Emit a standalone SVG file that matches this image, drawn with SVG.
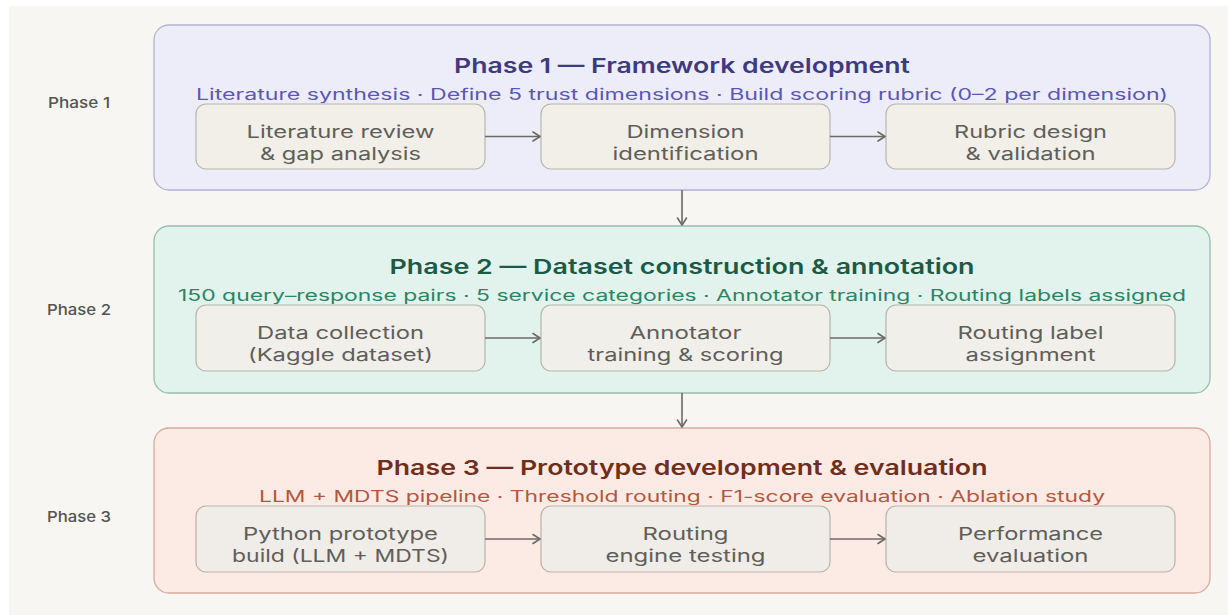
<svg xmlns="http://www.w3.org/2000/svg" width="1228" height="615" viewBox="0 0 1228 615">
  <defs>
    <marker id="chev" markerWidth="12" markerHeight="12" refX="10" refY="6" orient="auto" markerUnits="userSpaceOnUse">
      <path d="M3,1.5 L10,6 L3,10.5" fill="none" stroke="#6b6a66" stroke-width="1.6" stroke-linecap="round" stroke-linejoin="round"/>
    </marker>
  </defs>
  <style>
    text { font-family: Inter, "Noto Sans", "Liberation Sans", sans-serif; }
    .side { font-size: 15px; font-weight: 500; fill: #545450; text-anchor: middle; }
    .title { font-size: 20.5px; font-weight: 600; text-anchor: middle; }
    .sub { font-size: 15.5px; font-weight: 400; text-anchor: middle; }
    .step { font-size: 17.5px; font-weight: 400; fill: #5f5e5a; text-anchor: middle; }
    .p1 { fill: #ededfa; stroke: #b3b1d6; stroke-width: 1.3; }
    .p2 { fill: #e2f3ee; stroke: #94bfae; stroke-width: 1.3; }
    .p3 { fill: #fcebe4; stroke: #d8aa9b; stroke-width: 1.3; }
    .b1 { fill: #f1efe7; stroke: #b9b6ad; stroke-width: 1.2; }
    .b2 { fill: #f0efea; stroke: #b5b5ad; stroke-width: 1.2; }
    .b3 { fill: #f0ece7; stroke: #b9b3ac; stroke-width: 1.2; }
    .t1 { fill: #3d3a80; } .s1 { fill: #5b57b8; }
    .t2 { fill: #1d5a45; } .s2 { fill: #2b8565; }
    .t3 { fill: #6f2f1e; } .s3 { fill: #b55842; }
    .edge { fill: none; stroke: #6b6a66; stroke-width: 1.6; marker-end: url(#chev); }
  </style>

  <!-- page background -->
  <rect x="0" y="0" width="1228" height="615" fill="#ffffff"/>
  <rect x="9" y="6" width="1219" height="609" fill="#f7f6f3"/>

  <!-- row labels -->
  <g id="labels">
    <text class="side" x="79" y="108" textLength="62" lengthAdjust="spacingAndGlyphs">Phase 1</text>
    <text class="side" x="79" y="315" textLength="64" lengthAdjust="spacingAndGlyphs">Phase 2</text>
    <text class="side" x="79" y="522" textLength="64" lengthAdjust="spacingAndGlyphs">Phase 3</text>
  </g>

  <!-- Phase 1 -->
  <g id="phase1">
    <rect class="p1" x="154" y="25" width="1056" height="165" rx="15"/>
    <text class="title t1" x="682" y="73" textLength="456" lengthAdjust="spacingAndGlyphs">Phase 1 — Framework development</text>
    <text class="sub s1" x="682" y="100" textLength="972" lengthAdjust="spacingAndGlyphs">Literature synthesis · Define 5 trust dimensions · Build scoring rubric (0–2 per dimension)</text>
  </g>
  <g id="p1-review">
    <rect class="b1" x="196" y="104" width="289" height="65" rx="10"/>
    <text class="step" x="340.5" y="138" textLength="188" lengthAdjust="spacingAndGlyphs">Literature review</text>
    <text class="step" x="340.5" y="160" textLength="161" lengthAdjust="spacingAndGlyphs">&amp; gap analysis</text>
  </g>
  <g id="p1-dimensions">
    <rect class="b1" x="541" y="104" width="289" height="65" rx="10"/>
    <text class="step" x="685.5" y="138" textLength="118" lengthAdjust="spacingAndGlyphs">Dimension</text>
    <text class="step" x="685.5" y="160" textLength="146" lengthAdjust="spacingAndGlyphs">identification</text>
  </g>
  <g id="p1-rubric">
    <rect class="b1" x="886" y="104" width="289" height="65" rx="10"/>
    <text class="step" x="1030.5" y="138" textLength="153" lengthAdjust="spacingAndGlyphs">Rubric design</text>
    <text class="step" x="1030.5" y="160" textLength="130" lengthAdjust="spacingAndGlyphs">&amp; validation</text>
  </g>

  <!-- Phase 2 -->
  <g id="phase2">
    <rect class="p2" x="154" y="226" width="1056" height="167" rx="15"/>
    <text class="title t2" x="682" y="274" textLength="585" lengthAdjust="spacingAndGlyphs">Phase 2 — Dataset construction &amp; annotation</text>
    <text class="sub s2" x="682" y="301" textLength="1008" lengthAdjust="spacingAndGlyphs">150 query–response pairs · 5 service categories · Annotator training · Routing labels assigned</text>
  </g>
  <g id="p2-collection">
    <rect class="b2" x="196" y="305" width="289" height="66" rx="10"/>
    <text class="step" x="340.5" y="339" textLength="167" lengthAdjust="spacingAndGlyphs">Data collection</text>
    <text class="step" x="340.5" y="361" textLength="185" lengthAdjust="spacingAndGlyphs">(Kaggle dataset)</text>
  </g>
  <g id="p2-annotation">
    <rect class="b2" x="541" y="305" width="289" height="66" rx="10"/>
    <text class="step" x="685.5" y="339" textLength="112" lengthAdjust="spacingAndGlyphs">Annotator</text>
    <text class="step" x="685.5" y="361" textLength="196" lengthAdjust="spacingAndGlyphs">training &amp; scoring</text>
  </g>
  <g id="p2-routing">
    <rect class="b2" x="886" y="305" width="289" height="66" rx="10"/>
    <text class="step" x="1030.5" y="339" textLength="146" lengthAdjust="spacingAndGlyphs">Routing label</text>
    <text class="step" x="1030.5" y="361" textLength="130" lengthAdjust="spacingAndGlyphs">assignment</text>
  </g>

  <!-- Phase 3 -->
  <g id="phase3">
    <rect class="p3" x="154" y="428" width="1056" height="165" rx="15"/>
    <text class="title t3" x="682" y="475" textLength="611" lengthAdjust="spacingAndGlyphs">Phase 3 — Prototype development &amp; evaluation</text>
    <text class="sub s3" x="682" y="502" textLength="846" lengthAdjust="spacingAndGlyphs">LLM + MDTS pipeline · Threshold routing · F1-score evaluation · Ablation study</text>
  </g>
  <g id="p3-prototype">
    <rect class="b3" x="196" y="506" width="289" height="66" rx="10"/>
    <text class="step" x="340.5" y="540" textLength="195" lengthAdjust="spacingAndGlyphs">Python prototype</text>
    <text class="step" x="340.5" y="562" textLength="217" lengthAdjust="spacingAndGlyphs">build (LLM + MDTS)</text>
  </g>
  <g id="p3-engine">
    <rect class="b3" x="541" y="506" width="289" height="66" rx="10"/>
    <text class="step" x="685.5" y="540" textLength="86" lengthAdjust="spacingAndGlyphs">Routing</text>
    <text class="step" x="685.5" y="562" textLength="160" lengthAdjust="spacingAndGlyphs">engine testing</text>
  </g>
  <g id="p3-performance">
    <rect class="b3" x="886" y="506" width="289" height="66" rx="10"/>
    <text class="step" x="1030.5" y="540" textLength="145" lengthAdjust="spacingAndGlyphs">Performance</text>
    <text class="step" x="1030.5" y="562" textLength="116" lengthAdjust="spacingAndGlyphs">evaluation</text>
  </g>

  <!-- connectors -->
  <g id="connectors">
    <line class="edge" x1="485" y1="136.5" x2="540" y2="136.5"/>
    <line class="edge" x1="830" y1="136.5" x2="885" y2="136.5"/>
    <line class="edge" x1="485" y1="338" x2="540" y2="338"/>
    <line class="edge" x1="830" y1="338" x2="885" y2="338"/>
    <line class="edge" x1="485" y1="539" x2="540" y2="539"/>
    <line class="edge" x1="830" y1="539" x2="885" y2="539"/>
    <line class="edge" x1="682" y1="190" x2="682" y2="225"/>
    <line class="edge" x1="682" y1="393" x2="682" y2="427"/>
  </g>
</svg>
